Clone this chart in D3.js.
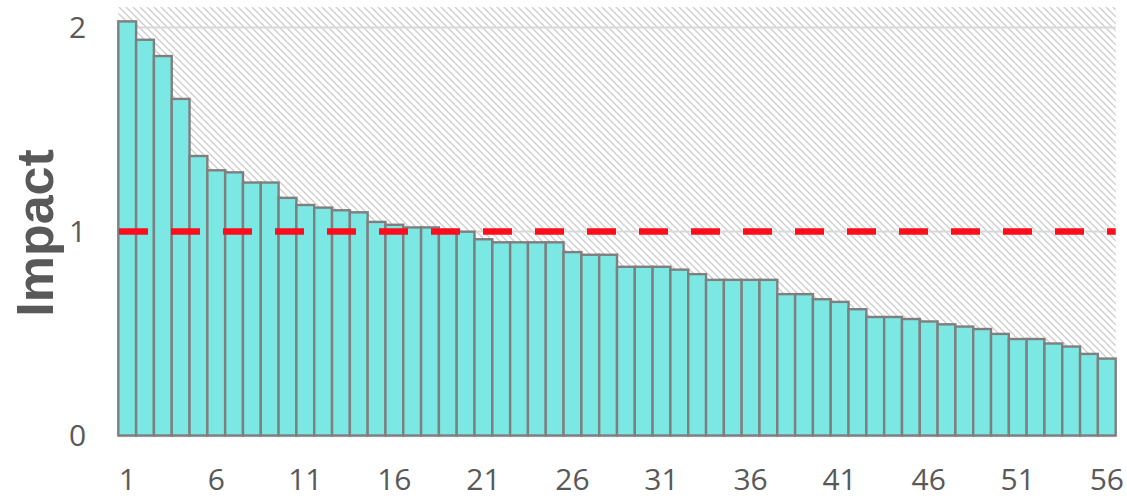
<!DOCTYPE html>
<html>
<head>
<meta charset="utf-8">
<script src="https://cdn.jsdelivr.net/npm/d3@7"></script>
<style>
  html, body { margin: 0; padding: 0; background: #ffffff; }
  svg { display: block; }
</style>
</head>
<body>
<svg id="chart" width="1127" height="498"></svg>
<script>
const categories = [1,2,3,4,5,6,7,8,9,10,11,12,13,14,15,16,17,18,19,20,21,22,23,24,25,26,27,28,
  29,30,31,32,33,34,35,36,37,38,39,40,41,42,43,44,45,46,47,48,49,50,51,52,53,54,55,56];
const impact = [2.03,1.94,1.86,1.65,1.37,1.30,1.29,1.24,1.24,1.165,1.13,1.117,1.104,1.094,1.047,1.033,
  1.02,1.02,1.007,0.999,0.962,0.947,0.947,0.947,0.947,0.899,0.886,0.886,0.827,0.827,0.827,0.813,
  0.791,0.763,0.763,0.763,0.763,0.693,0.693,0.668,0.655,0.619,0.581,0.581,0.571,0.559,0.545,0.534,
  0.522,0.498,0.473,0.473,0.451,0.436,0.400,0.377];
const xTickLabels = [1,6,11,16,21,26,31,36,41,46,51,56];
const yTickValues = [0,1,2];
const threshold = 1;
const yAxisTitle = "Impact";

const svg = d3.select("#chart");
const left = 118.3, right = 1115.7, bottom = 435.5;
const yMax = 2.1;
const y = d3.scaleLinear().domain([0, yMax]).range([bottom, bottom - 204 * yMax]);
const x = d3.scaleBand().domain(categories).range([left, right]).paddingInner(0).paddingOuter(0);

// hatch pattern
const defs = svg.append("defs");
const pat = defs.append("pattern")
  .attr("id", "hatch").attr("patternUnits", "userSpaceOnUse")
  .attr("width", 7).attr("height", 7);
pat.append("path")
  .attr("d", "M-1,-1 L8,8 M-4,3 L0,7 M3,-4 L11,4")
  .attr("stroke", "#cccccc").attr("stroke-width", 1.3).attr("fill", "none");

svg.append("rect")
  .attr("x", left).attr("y", y(yMax))
  .attr("width", right - left).attr("height", y(0) - y(yMax))
  .attr("fill", "url(#hatch)");

// gridlines
svg.append("g").selectAll("line").data(yTickValues.filter(d => d > 0)).join("line")
  .attr("x1", left).attr("x2", right)
  .attr("y1", d => y(d)).attr("y2", d => y(d))
  .attr("stroke", "#d9d9d9").attr("stroke-width", 1.8);

// baseline
svg.append("line")
  .attr("x1", left).attr("x2", right)
  .attr("y1", y(0) + 0.8).attr("y2", y(0) + 0.8)
  .attr("stroke", "#d9d9d9").attr("stroke-width", 2);

// bars
svg.append("g").selectAll("rect").data(categories).join("rect")
  .attr("x", d => x(d))
  .attr("y", (d, i) => y(impact[i]))
  .attr("width", x.bandwidth())
  .attr("height", (d, i) => y(0) - y(impact[i]))
  .attr("fill", "#7be8e3")
  .attr("stroke", "#7f7f7f")
  .attr("stroke-width", 2.4);

// threshold line
svg.append("line")
  .attr("x1", left + 0.7).attr("x2", right)
  .attr("y1", y(threshold)).attr("y2", y(threshold))
  .attr("stroke", "#ff0d1d").attr("stroke-width", 6.7)
  .attr("stroke-dasharray", "29,23");

// y tick labels
svg.append("g").selectAll("text").data(yTickValues).join("text")
  .attr("x", 77.5).attr("y", d => y(d))
  .attr("dy", "0.36em")
  .attr("text-anchor", "middle")
  .attr("font-family", "'Open Sans', sans-serif")
  .attr("font-size", 30)
  .attr("fill", "#595959")
  .text(d => d);

// x tick labels
svg.append("g").selectAll("text").data(xTickLabels).join("text")
  .attr("x", d => x(d) + x.bandwidth() / 2)
  .attr("y", 479)
  .attr("dy", "0.36em")
  .attr("text-anchor", "middle")
  .attr("font-family", "'Open Sans', sans-serif")
  .attr("font-size", 30)
  .attr("fill", "#595959")
  .text(d => d);

// y axis title
svg.append("text")
  .attr("transform", `translate(34,${233}) rotate(-90)`)
  .attr("text-anchor", "middle")
  .attr("dy", "0.36em")
  .attr("font-family", "'Liberation Sans', Arial, sans-serif")
  .attr("font-weight", "bold")
  .attr("font-size", 52)
  .attr("fill", "#595959")
  .text(yAxisTitle);
</script>
</body>
</html>
